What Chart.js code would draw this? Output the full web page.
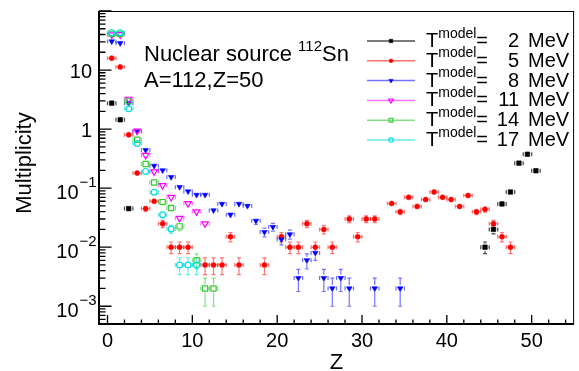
<!DOCTYPE html>
<html>
<head>
<meta charset="utf-8">
<script src="https://cdn.jsdelivr.net/npm/chart.js@4.4.1/dist/chart.umd.min.js"></script>
<style>
  html, body { margin: 0; padding: 0; background: #fff; }
</style>
</head>
<body>
<canvas id="chart" width="579" height="371"></canvas>
<script>
// Z bin centres and multiplicities
const z2 = [0.5, 1.5, 2.5, 44.5, 45.5, 46.5, 47.5, 48.5, 49.5, 50.5];
const m2 = [2.75, 1.44, 0.045, 0.010, 0.020, 0.054, 0.086, 0.265, 0.375, 0.197];

const z5 = [0.5, 1.5, 2.5, 3.5, 4.5, 5.5, 6.5, 7.5, 8.5, 9.5, 11.5, 12.5, 13.5, 14.5, 15.5, 18.5,
            20.5, 21.5, 22.5, 23.5, 24.5, 25.5, 26.5, 28.5, 29.5, 30.5, 31.5, 33.5, 34.5, 35.5,
            36.5, 37.5, 38.5, 39.5, 40.5, 41.5, 42.5, 43.5, 44.5, 45.5, 46.5, 47.5];
const m5 = [15.9, 11.3, 0.80, 0.18, 0.045, 0.060, 0.025, 0.010, 0.010, 0.010, 0.005, 0.005, 0.005, 0.015, 0.005, 0.005,
            0.015, 0.010, 0.010, 0.025, 0.010, 0.020, 0.010, 0.030, 0.015, 0.030, 0.030, 0.055, 0.040, 0.070,
            0.049, 0.064, 0.086, 0.070, 0.064, 0.049, 0.075, 0.040, 0.044, 0.025, 0.015, 0.010];

const z8 = [0.5, 1.5, 2.5, 3.5, 4.5, 5.5, 6.5, 7.5, 8.5, 9.5, 10.5, 11.5, 12.5, 13.5, 14.5, 15.5, 16.5,
            17.5, 18.5, 19.5, 20.5, 21.5, 22.5, 23.5, 24.5, 25.5, 26.5, 27.5, 28.5, 31.5, 34.5];
const m8 = [30.5, 28.5, 2.75, 0.91, 0.44, 0.239, 0.20, 0.154, 0.104, 0.088, 0.077, 0.077, 0.042, 0.054, 0.0355, 0.054, 0.050,
            0.028, 0.018, 0.022, 0.0135, 0.0165, 0.003, 0.006, 0.008, 0.003, 0.002, 0.003, 0.002, 0.002, 0.002];

const z11 = [0.5, 1.5, 2.5, 3.5, 4.5, 5.5, 6.5, 7.5, 8.5, 9.5, 10.5, 11.5];
const m11 = [39.5, 40, 3.22, 0.93, 0.36, 0.19, 0.111, 0.070, 0.031, 0.055, 0.040, 0.025];

const z14 = [0.5, 1.5, 2.5, 3.5, 4.5, 5.5, 6.5, 7.5, 8.5, 10.5, 11.5, 12.5];
const m14 = [41, 41, 2.95, 0.66, 0.257, 0.125, 0.058, 0.046, 0.0225, 0.006, 0.002, 0.002];

const z17 = [0.5, 1.5, 2.5, 3.5, 4.5, 5.5, 6.5, 7.5, 8.5, 9.5, 10.5];
const m17 = [43, 43, 2.2, 0.57, 0.192, 0.085, 0.0355, 0.0203, 0.005, 0.005, 0.005];

const temps = [2, 5, 8, 11, 14, 17];
const xTicks = [0, 10, 20, 30, 40, 50];
const yTicks = [10, 1, 0.1, 0.01, 0.001];
const yTickLabels = [['10', ''], ['1', ''], ['10', '\u22121'], ['10', '\u22122'], ['10', '\u22123']];
const nEvents = 2000;   // error bars look like sqrt(counts) out of 2000 events
const binHalf = 0.5;

const looks = [
  { col: '#000000', light: 'rgba(0,0,0,0.7)',       style: 'rect',     rot: 0,   r: 3.2, filled: true },
  { col: '#ff0000', light: 'rgba(255,0,0,0.55)',    style: 'circle',   rot: 0,   r: 2.5, filled: true },
  { col: '#0000ff', light: 'rgba(0,0,255,0.55)',    style: 'triangle', rot: 180, r: 3.2, filled: true },
  { col: '#ff00ff', light: 'rgba(255,0,255,0.55)',  style: 'triangle', rot: 180, r: 3.7, filled: false },
  { col: '#33cc33', light: 'rgba(51,204,51,0.6)',   style: 'rect',     rot: 0,   r: 3.7, filled: false },
  { col: '#00dddd', light: 'rgba(0,221,221,0.6)',   style: 'circle',   rot: 0,   r: 2.9, filled: false }
];
const zs = [z2, z5, z8, z11, z14, z17];
const ms = [m2, m5, m8, m11, m14, m17];

const FONT = '"Liberation Sans", Arial, Helvetica, sans-serif';

const datasets = temps.map((t, i) => {
  const lk = looks[i];
  return {
    label: 'T=' + t + ' MeV',
    data: zs[i].map((z, k) => ({ x: z, y: ms[i][k] })),
    showLine: false,
    order: 5 - i,
    pointStyle: lk.style,
    rotation: lk.rot,
    pointRadius: lk.r,
    pointHoverRadius: lk.r,
    pointBackgroundColor: lk.filled ? lk.col : 'rgba(0,0,0,0)',
    pointBorderColor: lk.col,
    pointBorderWidth: lk.filled ? 0.6 : 1.2,
    errColor: lk.light,
    gap: lk.r + 0.3
  };
});

function strokeLine(ctx, x1, y1, x2, y2) {
  ctx.moveTo(x1, y1); ctx.lineTo(x2, y2);
}

const errBars = {
  id: 'errBars',
  beforeDatasetsDraw(chart) {
    const ctx = chart.ctx, xs = chart.scales.x, ys = chart.scales.y, a = chart.chartArea;
    ctx.save();
    ctx.beginPath();
    ctx.rect(a.left, a.top, a.right - a.left, a.bottom - a.top);
    ctx.clip();
    ctx.lineWidth = 1.2;
    chart.data.datasets.forEach(ds => {
      ctx.strokeStyle = ds.errColor;
      const g = ds.gap;
      ds.data.forEach(p => {
        const px = xs.getPixelForValue(p.x), py = ys.getPixelForValue(p.y);
        const e = Math.sqrt(p.y / nEvents);
        const xl = xs.getPixelForValue(p.x - binHalf), xr = xs.getPixelForValue(p.x + binHalf);
        const yt = ys.getPixelForValue(p.y + e);
        const yb = (p.y - e) > 0 ? Math.min(ys.getPixelForValue(p.y - e), a.bottom + 3) : a.bottom + 3;
        ctx.beginPath();
        strokeLine(ctx, xl, py, px - g, py);
        strokeLine(ctx, px + g, py, xr, py);
        strokeLine(ctx, xl, py - 2, xl, py + 2);
        strokeLine(ctx, xr, py - 2, xr, py + 2);
        if (py - yt > g) {
          strokeLine(ctx, px, py - g, px, yt);
          strokeLine(ctx, px - 2, yt, px + 2, yt);
        }
        if (yb - py > g) {
          strokeLine(ctx, px, py + g, px, yb);
          strokeLine(ctx, px - 2, yb, px + 2, yb);
        }
        ctx.stroke();
      });
    });
    ctx.restore();
  }
};

function marker(ctx, lk, x, y, r) {
  ctx.save();
  ctx.fillStyle = lk.filled ? lk.col : 'rgba(0,0,0,0)';
  ctx.strokeStyle = lk.col;
  ctx.lineWidth = lk.filled ? 0.6 : 1.1;
  Chart.helpers.drawPoint(ctx, { pointStyle: lk.style, rotation: lk.rot, radius: r, borderWidth: ctx.lineWidth }, x, y);
  ctx.restore();
}

const frame = {
  id: 'frame',
  afterDraw(chart) {
    const ctx = chart.ctx, xs = chart.scales.x, ys = chart.scales.y, a = chart.chartArea;
    ctx.save();
    ctx.strokeStyle = '#000';
    ctx.fillStyle = '#000';

    // frame
    ctx.lineWidth = 1;
    ctx.strokeRect(a.left + 0.5, a.top + 0.5, a.right - a.left - 1, a.bottom - a.top - 1);
    ctx.lineWidth = 2;
    ctx.beginPath();
    strokeLine(ctx, a.left, a.top, a.left, a.bottom);
    strokeLine(ctx, a.left - 1, a.bottom, a.right, a.bottom);
    ctx.stroke();

    // x ticks
    ctx.lineWidth = 1.3;
    ctx.beginPath();
    for (let v = 0; v <= 54; v += 2) {
      const px = xs.getPixelForValue(v);
      const len = (v % 10 === 0) ? 9 : 4.5;
      strokeLine(ctx, px, a.bottom, px, a.bottom - len);
    }
    // y ticks
    for (let d = -4; d <= 2; d++) {
      for (let k = 1; k <= 9; k++) {
        const v = k * Math.pow(10, d);
        if (v < ys.min * 0.999 || v > ys.max * 1.001) continue;
        const py = ys.getPixelForValue(v);
        const len = k === 1 ? 12.5 : 6.5;
        strokeLine(ctx, a.left, py, a.left + len, py);
      }
    }
    ctx.stroke();

    // x tick labels
    ctx.font = '20px ' + FONT;
    ctx.textAlign = 'center';
    ctx.textBaseline = 'alphabetic';
    xTicks.forEach(v => ctx.fillText(String(v), xs.getPixelForValue(v), 347));

    // y tick labels
    yTicks.forEach((v, i) => {
      const py = ys.getPixelForValue(v);
      const [base, sup] = yTickLabels[i];
      if (!sup) {
        ctx.font = '20px ' + FONT;
        ctx.textAlign = 'right';
        ctx.fillText(base, 92, py + 7.5);
      } else {
        ctx.font = '20px ' + FONT;
        ctx.textAlign = 'right';
        ctx.fillText(base, 78.5, py + 10.5);
        ctx.font = '15px ' + FONT;
        ctx.textAlign = 'left';
        ctx.fillText(sup, 79.5, py - 1.5);
      }
    });

    // axis titles
    ctx.font = '22px ' + FONT;
    ctx.textAlign = 'center';
    ctx.fillText('Z', (a.left + a.right) / 2, 369);
    ctx.save();
    ctx.translate(31, 163);
    ctx.rotate(-Math.PI / 2);
    ctx.fillText('Multiplicity', 0, 0);
    ctx.restore();

    // annotation
    ctx.textAlign = 'left';
    ctx.font = '22px ' + FONT;
    const s1 = 'Nuclear source ';
    ctx.fillText(s1, 144, 61);
    let x = 144 + ctx.measureText(s1).width;
    ctx.font = '15px ' + FONT;
    ctx.fillText('112', x, 51);
    x += ctx.measureText('112').width;
    ctx.font = '22px ' + FONT;
    ctx.fillText('Sn', x, 61);
    ctx.fillText('A=112,Z=50', 144, 87);

    // legend
    temps.forEach((t, i) => {
      const lk = looks[i];
      const ly = 41 + i * 19.8;
      ctx.strokeStyle = lk.light;
      ctx.lineWidth = 1.5;
      ctx.beginPath();
      strokeLine(ctx, 367, ly, 415, ly);
      ctx.stroke();
      marker(ctx, lk, 391, ly, lk.r * 0.75);
      ctx.fillStyle = '#000';
      ctx.textAlign = 'left';
      ctx.font = '20px ' + FONT;
      ctx.fillText('T', 426, ly + 6);
      let tx = 426 + ctx.measureText('T').width;
      ctx.font = '14px ' + FONT;
      ctx.fillText('model', tx, ly - 3.5);
      tx += ctx.measureText('model').width;
      ctx.font = '20px ' + FONT;
      ctx.fillText('=', tx, ly + 6);
      ctx.textAlign = 'right';
      ctx.fillText(String(t), 519, ly + 6);
      ctx.textAlign = 'left';
      ctx.fillText('MeV', 528, ly + 6);
    });

    ctx.restore();
  }
};

new Chart(document.getElementById('chart'), {
  type: 'scatter',
  data: { datasets: datasets },
  options: {
    responsive: false,
    devicePixelRatio: 1,
    animation: false,
    layout: { padding: { left: 99, right: 3, top: 11, bottom: 47 } },
    scales: {
      x: { type: 'linear', min: -1, max: 55, display: false },
      y: { type: 'logarithmic', min: 0.0005, max: 100, display: false }
    },
    plugins: {
      legend: { display: false },
      tooltip: { enabled: false }
    }
  },
  plugins: [errBars, frame]
});
</script>
</body>
</html>
